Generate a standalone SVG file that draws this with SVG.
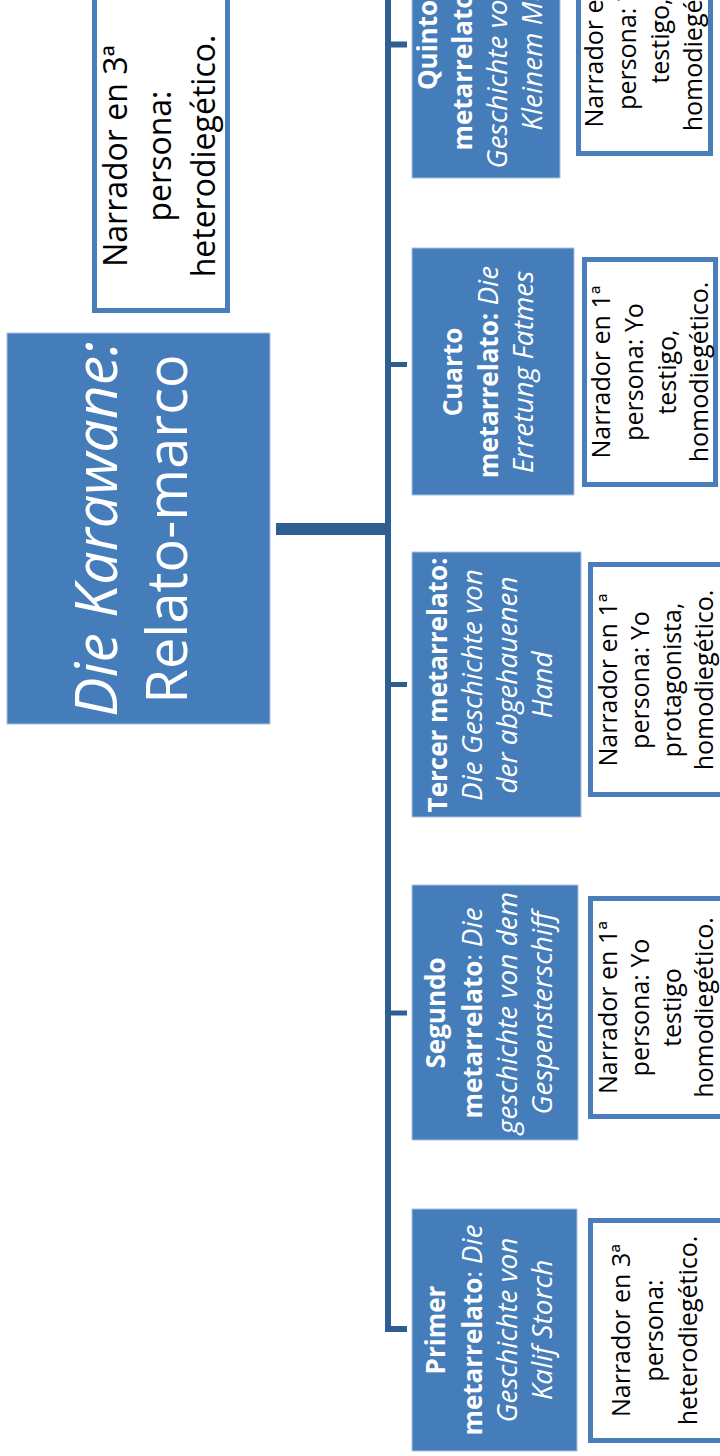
<svg xmlns="http://www.w3.org/2000/svg" width="720" height="1456" viewBox="0 0 720 1456">
<style>
.node{fill:#457CBA;stroke:#A9C2E2;stroke-width:1}
.nar{fill:#fff;stroke:#4A7EBB;stroke-width:5}
.conn{fill:none;stroke:#2F5E93;stroke-linejoin:miter}
.t{font-family:"Open Sans","Noto Sans","DejaVu Sans",sans-serif;text-anchor:middle}
.w{fill:#fff;font-size:26px}
.k{fill:#000;font-size:25px}
.b{font-weight:bold}
.i{font-style:italic;font-size:28px}
</style>
<rect width="720" height="1456" fill="#fff"/>
<g id="connectors">
<path class="conn" d="M276,529 H388" stroke-width="12"/>
<path class="conn" d="M388,-5 V1329 H407" stroke-width="6"/>
<path class="conn" d="M388,44.5 H407" stroke-width="6"/>
<path class="conn" d="M388,364.5 H407" stroke-width="5"/>
<path class="conn" d="M388,684.5 H407" stroke-width="5"/>
<path class="conn" d="M388,1013 H407" stroke-width="5"/>
</g>
<g id="main">
<rect class="node" x="7" y="333" width="263" height="391"/>
<text class="t" fill="#fff" font-size="56" transform="translate(0,529) rotate(-90)"><tspan x="0" y="117" font-style="italic" font-size="59">Die Karawane:</tspan><tspan x="0" y="187">Relato-marco</tspan></text>
</g>
<g id="main-narrator">
<rect class="nar" x="94.5" y="-10" width="133" height="320.5"/>
<text class="t" fill="#000" font-size="32" transform="translate(0,156) rotate(-90)"><tspan x="0" y="127">Narrador en 3ª</tspan><tspan x="0" y="171">persona:</tspan><tspan x="0" y="215">heterodiegético.</tspan></text>
</g>
<g id="quinto">
<rect class="node" x="412" y="-90" width="148" height="268"/>
<text class="t w" transform="translate(0,45) rotate(-90)"><tspan x="0" y="437" class="b">Quinto</tspan><tspan x="0" y="472" class="b">metarrelato</tspan><tspan>: </tspan><tspan class="i">Die</tspan><tspan x="0" y="507" class="i">Geschichte von dem</tspan><tspan x="0" y="542" class="i">Kleinem Muck</tspan></text>
</g>
<g id="quinto-narrator">
<rect class="nar" x="578.5" y="-80" width="132" height="233.5"/>
<text class="t k" transform="translate(0,41) rotate(-90)"><tspan x="0" y="603">Narrador en 1ª</tspan><tspan x="0" y="636">persona: Yo</tspan><tspan x="0" y="669">testigo,</tspan><tspan x="0" y="702">homodiegético.</tspan></text>
</g>
<g id="cuarto">
<rect class="node" x="412" y="248" width="162" height="247"/>
<text class="t w" transform="translate(0,372) rotate(-90)"><tspan x="0" y="462" class="b">Cuarto</tspan><tspan x="0" y="498" class="b">metarrelato:</tspan><tspan class="i"> Die</tspan><tspan x="0" y="533" class="i">Erretung Fatmes</tspan></text>
</g>
<g id="cuarto-narrator">
<rect class="nar" x="584.5" y="259.5" width="131" height="225"/>
<text class="t k" transform="translate(0,372) rotate(-90)"><tspan x="0" y="610">Narrador en 1ª</tspan><tspan x="0" y="643">persona: Yo</tspan><tspan x="0" y="676">testigo,</tspan><tspan x="0" y="708">homodiegético.</tspan></text>
</g>
<g id="tercer">
<rect class="node" x="412" y="552" width="169" height="265"/>
<text class="t w" transform="translate(0,685) rotate(-90)"><tspan x="0" y="447" class="b">Tercer metarrelato:</tspan><tspan x="0" y="482" class="i">Die Geschichte von</tspan><tspan x="0" y="517" class="i">der abgehauenen</tspan><tspan x="0" y="552" class="i">Hand</tspan></text>
</g>
<g id="tercer-narrator">
<rect class="nar" x="590.5" y="564.5" width="135" height="230"/>
<text class="t k" transform="translate(0,680) rotate(-90)"><tspan x="0" y="617">Narrador en 1ª</tspan><tspan x="0" y="649">persona: Yo</tspan><tspan x="0" y="681">protagonista,</tspan><tspan x="0" y="713">homodiegético.</tspan></text>
</g>
<g id="segundo">
<rect class="node" x="412" y="885" width="166" height="255"/>
<text class="t w" transform="translate(0,1013) rotate(-90)"><tspan x="0" y="445" class="b">Segundo</tspan><tspan x="0" y="482" class="b">metarrelato</tspan><tspan>: </tspan><tspan class="i">Die</tspan><tspan x="0" y="517" class="i">geschichte von dem</tspan><tspan x="0" y="552" class="i">Gespensterschiff</tspan></text>
</g>
<g id="segundo-narrator">
<rect class="nar" x="590.5" y="898.5" width="135" height="218"/>
<text class="t k" transform="translate(0,1007.5) rotate(-90)"><tspan x="0" y="617">Narrador en 1ª</tspan><tspan x="0" y="649">persona: Yo</tspan><tspan x="0" y="681">testigo</tspan><tspan x="0" y="713">homodiegético.</tspan></text>
</g>
<g id="primer">
<rect class="node" x="412" y="1209" width="165" height="242"/>
<text class="t w" transform="translate(0,1330) rotate(-90)"><tspan x="0" y="445" class="b">Primer</tspan><tspan x="0" y="482" class="b">metarrelato</tspan><tspan>: </tspan><tspan class="i">Die</tspan><tspan x="0" y="517" class="i">Geschichte von</tspan><tspan x="0" y="552" class="i">Kalif Storch</tspan></text>
</g>
<g id="primer-narrator">
<rect class="nar" x="590.5" y="1220.5" width="135" height="220"/>
<text class="t k" transform="translate(0,1330.5) rotate(-90)"><tspan x="0" y="630">Narrador en 3ª</tspan><tspan x="0" y="663">persona:</tspan><tspan x="0" y="697">heterodiegético.</tspan></text>
</g>
</svg>
